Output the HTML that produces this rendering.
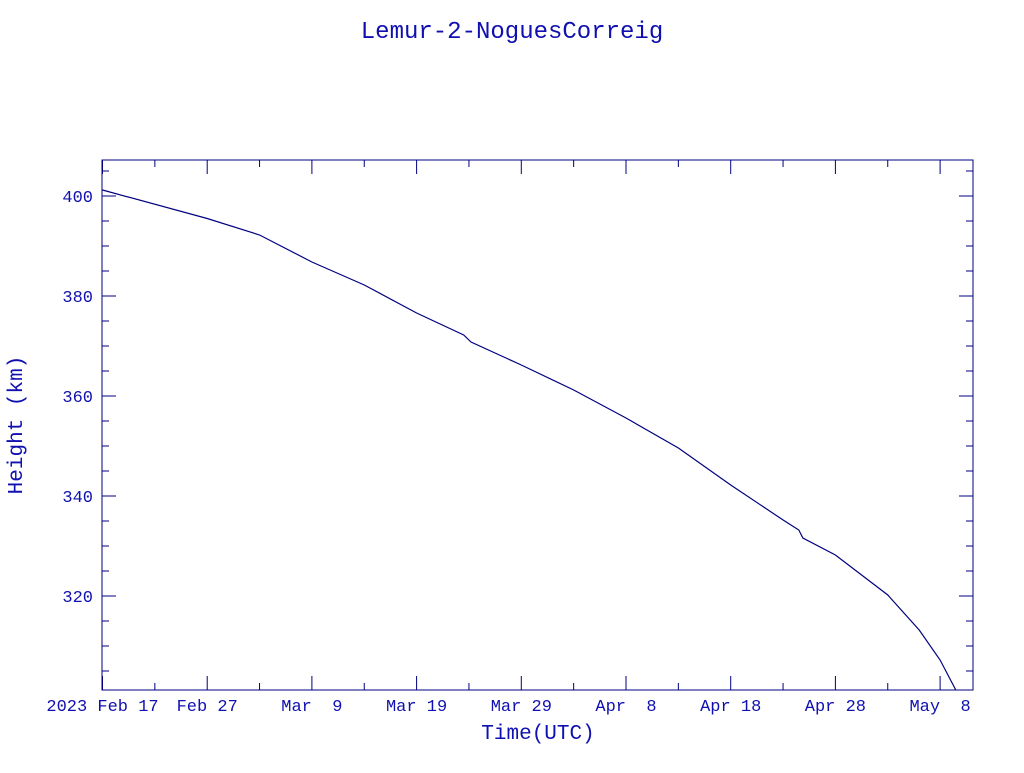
<!DOCTYPE html>
<html><head><meta charset="utf-8"><style>
body{margin:0;background:#fff;width:1024px;height:768px;overflow:hidden}
svg text{font-family:"Liberation Mono",monospace;fill:#1010b0}
</style></head><body>
<svg id="chart" width="1024" height="768" xmlns="http://www.w3.org/2000/svg">
<text x="512" y="38" text-anchor="middle" font-size="24">Lemur-2-NoguesCorreig</text>
<rect x="102" y="160" width="871" height="530" fill="none" stroke="#000080" stroke-width="1"/>
<g id="ticks"></g>
<path id="line" fill="none" stroke="#000080" stroke-width="1.2"/>
<text x="538" y="739" text-anchor="middle" font-size="21">Time(UTC)</text>
<text transform="translate(22,425) rotate(-90)" text-anchor="middle" font-size="21">Height (km)</text>
</svg>
<script>
const days=[0,10,15,20,25,30,34.5,35.2,40,45,50,55,60,65,66.5,66.9,70,75,78,80,81.5];
const heights=[401.2,395.5,392.2,386.8,382.2,376.6,372.2,370.8,366.2,361.2,355.6,349.6,342.2,335.2,333.2,331.6,328.2,320.2,313.2,307.2,301.2];
const yTicks=[320,340,360,380,400];
const xTickDays=[0,10,20,30,40,50,60,70,80];
const xTickLabels=["2023 Feb 17","Feb 27","Mar  9","Mar 19","Mar 29","Apr  8","Apr 18","Apr 28","May  8"];
const X0=102.5,PXD=10.47,Y0=196,PYK=5;
const xs=d=>X0+d*PXD, ys=h=>Y0+(400-h)*PYK;
const NS="http://www.w3.org/2000/svg";
const g=document.getElementById('ticks');
function ln(x1,y1,x2,y2,name){const l=document.createElementNS(NS,'line');l.setAttribute('x1',x1);l.setAttribute('y1',y1);l.setAttribute('x2',x2);l.setAttribute('y2',y2);l.setAttribute('stroke','#000080');


g.appendChild(l);}
function tx(x,y,s,anchor,name){const t=document.createElementNS(NS,'text');t.setAttribute('x',x);t.setAttribute('y',y);t.setAttribute('text-anchor',anchor);t.setAttribute('font-size','17');t.style.whiteSpace='pre';t.textContent=s;


g.appendChild(t);}
for(let v=305;v<=405;v+=5){const y=ys(v);if(y<160||y>690)continue;const major=yTicks.includes(v);const L=major?14:7;ln(102,y,102+L,y,'y-tick');ln(973-L,y,973,y,'y-tick');}
yTicks.forEach(v=>tx(93,ys(v)+6,String(v),'end','y-tick-label'));
for(let d=0;d<=83;d+=5){const x=xs(d);const major=d%10===0;const L=major?14:7;ln(x,690,x,690-L,'x-tick');ln(x,160,x,160+L,'x-tick');}
xTickDays.forEach((d,i)=>tx(xs(d),711,xTickLabels[i],'middle','x-tick-label'));
document.getElementById('line').setAttribute('d',days.map((d,i)=>(i?'L':'M')+xs(d).toFixed(1)+','+ys(heights[i]).toFixed(1)).join(''));
</script>
</body></html>
